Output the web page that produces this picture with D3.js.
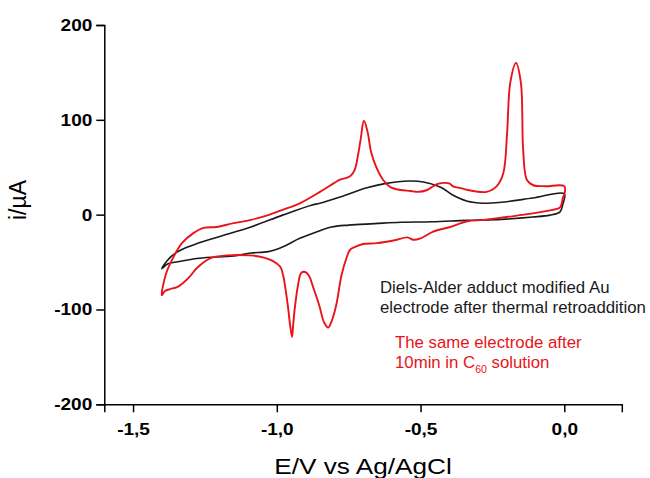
<!DOCTYPE html>
<html>
<head>
<meta charset="utf-8">
<script src="https://cdn.jsdelivr.net/npm/d3@7"></script>
<style>
  body { margin: 0; background: #fff; }
  svg { font-family: "Liberation Sans", Arial, sans-serif; }
</style>
</head>
<body>
<div id="chart"></div>
<script>
// tick values
var potentialTicks = [-1.5, -1.0, -0.5, 0.0];
var currentTicks = [-200, -100, 0, 100, 200];

// black CV: modified Au electrode after retroaddition  [E (V), i (uA)]
var blackAnodic = [
    [-1.40, -57], [-1.38, -48], [-1.35, -40], [-1.30, -33], [-1.21, -24], [-1.09, -13],
    [-0.98, -0.5], [-0.88, 10], [-0.85, 12], [-0.78, 18.5], [-0.69, 28], [-0.62, 33],
    [-0.54, 35.5], [-0.49, 34.5], [-0.43, 29], [-0.39, 21], [-0.34, 14.5], [-0.28, 12],
    [-0.22, 13], [-0.11, 17.5], [0.0, 22]
];
var blackCathodic = [
    [-0.005, 11], [-0.015, 3], [-0.05, -0.5], [-0.11, -2.5], [-0.22, -5], [-0.34, -6],
    [-0.46, -7.5], [-0.57, -8], [-0.66, -9.5], [-0.75, -11], [-0.81, -13], [-0.86, -18],
    [-0.92, -25], [-0.98, -34], [-1.03, -39], [-1.09, -40.5], [-1.15, -43.5], [-1.27, -46],
    [-1.35, -50], [-1.38, -52]
];

// red CV: same electrode after 10 min in C60 solution
var redAnodic = [
    [-1.40, -85], [-1.385, -62], [-1.36, -45], [-1.33, -30], [-1.29, -19.5], [-1.255, -14],
    [-1.21, -13], [-1.15, -9], [-1.09, -5.5], [-1.03, -0.5], [-0.98, 5], [-0.92, 12],
    [-0.85, 24], [-0.80, 33.5], [-0.78, 37], [-0.755, 39], [-0.74, 42], [-0.728, 48],
    [-0.718, 62], [-0.708, 80], [-0.697, 99], [-0.684, 87], [-0.672, 66], [-0.654, 50],
    [-0.63, 36.5], [-0.605, 29], [-0.57, 26], [-0.535, 25], [-0.51, 24], [-0.477, 26],
    [-0.445, 32], [-0.42, 33.5], [-0.40, 33], [-0.385, 29.5], [-0.36, 28], [-0.335, 26],
    [-0.27, 24], [-0.235, 30], [-0.212, 44], [-0.199, 86], [-0.188, 139], [-0.168, 160],
    [-0.151, 139], [-0.143, 68], [-0.13, 36.5], [-0.108, 31], [-0.066, 30], [0.0, 30]
];
var redCathodic = [
    [0.0, 21], [-0.005, 18], [-0.014, 8], [-0.05, 4.5], [-0.165, -1], [-0.28, -5.5],
    [-0.337, -7], [-0.397, -13], [-0.456, -18], [-0.50, -25], [-0.525, -26.5], [-0.546, -24],
    [-0.59, -27], [-0.651, -30], [-0.70, -31], [-0.727, -34], [-0.745, -37], [-0.758, -46],
    [-0.775, -64], [-0.793, -95], [-0.809, -112], [-0.821, -119], [-0.835, -114], [-0.853, -95],
    [-0.874, -76], [-0.887, -65], [-0.901, -60.5], [-0.915, -61.5], [-0.926, -74], [-0.936, -95],
    [-0.943, -116], [-0.947, -129], [-0.954, -116], [-0.96, -100], [-0.971, -76], [-0.978, -64],
    [-0.988, -55], [-1.013, -49], [-1.048, -45], [-1.093, -43], [-1.173, -43], [-1.232, -46],
    [-1.277, -56], [-1.302, -65], [-1.326, -72], [-1.347, -76.5], [-1.371, -78.5], [-1.389, -80.5]
];

var width = 650;
var height = 478;

var svg = d3.select('#chart').append('svg')
    .attr('width', width)
    .attr('height', height);

// scales
var x = d3.scaleLinear().domain([-1.6, 0.2]).range([104.3, 621.8]);
var y = d3.scaleLinear().domain([-200, 200]).range([404.3, 25]);

// comma decimals, plain hyphen minus
var locale = d3.formatLocale({ decimal: ',', thousands: '.', grouping: [3], currency: ['', ''], minus: '-' });

// the original figure is a bit wider than tall, so widen the glyphs
function widen(sel, k) {
    sel.each(function () {
        var len = this.getComputedTextLength();
        d3.select(this)
            .attr('textLength', len * k)
            .attr('lengthAdjust', 'spacingAndGlyphs');
    });
}

// axes
var xAxis = d3.axisBottom(x)
    .tickValues(potentialTicks)
    .tickSize(8)
    .tickPadding(11)
    .tickFormat(locale.format('.1f'));

var yAxis = d3.axisLeft(y)
    .tickValues(currentTicks)
    .tickSize(8)
    .tickPadding(4)
    .tickFormat(locale.format('d'));

var gx = svg.append('g')
    .attr('transform', 'translate(0,' + y(-200) + ')')
    .call(xAxis);

var gy = svg.append('g')
    .attr('transform', 'translate(' + x(-1.6) + ',0)')
    .call(yAxis);

[gx, gy].forEach(function (g) {
    g.select('.domain').attr('stroke', '#000').attr('stroke-width', 1.5);
    g.selectAll('.tick line').attr('stroke', '#000').attr('stroke-width', 1.5);
    g.selectAll('.tick text')
        .attr('fill', '#000')
        .style('font-size', '17px')
        .style('font-weight', 'bold')
        .style('font-family', '"Liberation Sans", Arial, sans-serif')
        .call(widen, 1.12);
});

// axis titles
svg.append('text')
    .attr('x', 363)
    .attr('y', 474)
    .attr('text-anchor', 'middle')
    .style('font-size', '22px')
    .text('E/V vs Ag/AgCl')
    .call(widen, 1.19);

svg.append('text')
    .attr('transform', 'translate(26,200) rotate(-90)')
    .attr('text-anchor', 'middle')
    .style('font-size', '23px')
    .text('i/\u00b5A');

// curves
var line = d3.line()
    .x(function (d) { return x(d[0]); })
    .y(function (d) { return y(d[1]); })
    .curve(d3.curveCatmullRomClosed.alpha(0.5));

svg.append('path')
    .datum(blackAnodic.concat(blackCathodic))
    .attr('d', line)
    .attr('fill', 'none')
    .attr('stroke', '#1a1a1a')
    .attr('stroke-width', 1.6);

svg.append('path')
    .datum(redAnodic.concat(redCathodic))
    .attr('d', line)
    .attr('fill', 'none')
    .attr('stroke', '#e8141a')
    .attr('stroke-width', 1.9);

// legend texts
var blackLabel = svg.append('text')
    .attr('x', 380)
    .attr('y', 293)
    .attr('fill', '#1a1a1a')
    .style('font-size', '16.8px');
blackLabel.append('tspan').attr('x', 380).text('Diels-Alder adduct modified Au');
blackLabel.append('tspan').attr('x', 380).attr('dy', 20).text('electrode after thermal retroaddition');

var redLabel = svg.append('text')
    .attr('x', 395)
    .attr('y', 348)
    .attr('fill', '#e8141a')
    .style('font-size', '16.8px');
redLabel.append('tspan').attr('x', 395).text('The same electrode after');
redLabel.append('tspan').attr('x', 395).attr('dy', 20).text('10min in C');
redLabel.append('tspan').attr('dy', 5).style('font-size', '10.5px').text('60');
redLabel.append('tspan').attr('dy', -5).text(' solution');
</script>
</body>
</html>
